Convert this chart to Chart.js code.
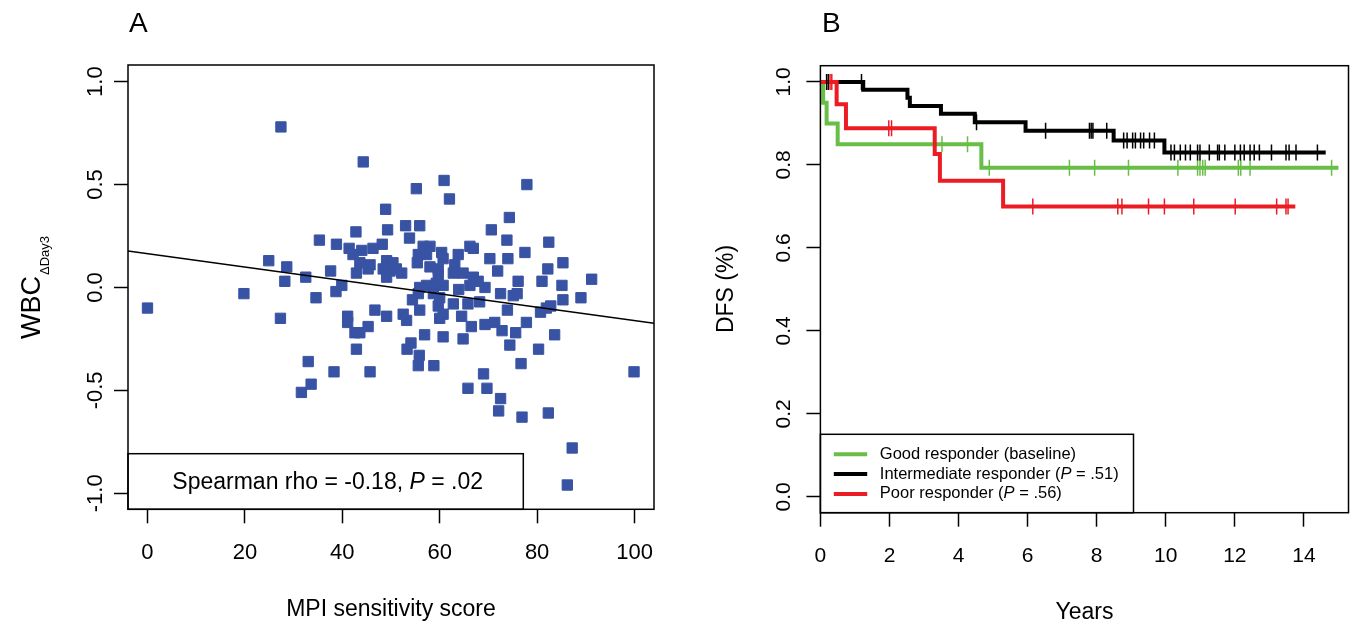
<!DOCTYPE html>
<html>
<head>
<meta charset="utf-8">
<script src="https://cdn.jsdelivr.net/npm/chart.js@4.4.1/dist/chart.umd.min.js"></script>
<style>
  html, body { margin: 0; padding: 0; background: #fff; }
  #wrap { position: relative; width: 1358px; height: 625px; }
  #chartA { position: absolute; left: 0; top: 0; }
  #chartB { position: absolute; left: 680px; top: 0; }
</style>
</head>
<body>
<div id="wrap">
  <canvas id="chartA" width="680" height="625"></canvas>
  <canvas id="chartB" width="678" height="625"></canvas>
</div>
<script>
// ---------- panel A : MPI score vs WBC change ----------
var mpiScore = [0.0, 19.8, 27.4, 99.9, 44.3, 55.2, 48.9, 53.0, 55.9, 42.8, 49.3, 53.8, 35.3, 38.8, 48.2, 46.3,
  41.4, 44.0, 42.2, 56.6, 55.6, 43.6, 45.7, 45.3, 49.1, 50.4, 48.4, 49.8, 51.1, 52.2, 49.1, 55.4, 24.9, 28.6,
  37.6, 42.9, 32.5, 28.2, 39.9, 38.7, 34.6, 55.9, 57.3, 55.6, 54.4, 55.9, 46.7, 52.5, 49.1, 41.1, 27.3, 60.9,
  77.9, 62.0, 74.3, 70.6, 73.8, 82.4, 77.5, 66.2, 66.9, 60.4, 63.8, 58.0, 70.3, 74.0, 85.3, 57.3, 60.7, 58.0,
  59.7, 63.1, 71.9, 82.2, 62.8, 64.8, 66.9, 67.9, 66.2, 69.3, 59.7, 59.3, 60.7, 76.1, 81.0, 85.1, 91.2, 63.9,
  72.5, 75.1, 75.9, 85.3, 89.0, 58.7, 60.0, 59.7, 62.8, 65.8, 68.2, 82.8, 81.9, 80.7, 73.9, 60.7, 64.5, 71.3,
  77.8, 41.1, 53.2, 45.3, 43.6, 42.6, 56.9, 54.1, 53.3, 42.9, 55.8, 55.6, 33.0, 38.3, 45.7, 33.6, 31.6, 60.0,
  66.5, 69.3, 72.8, 75.6, 60.7, 64.8, 74.4, 83.6, 80.3, 58.8, 76.7, 69.0, 65.8, 69.7, 72.5, 72.1, 76.9, 82.3,
  87.2, 86.2];
var wbcDelta = [-0.10, -0.03, 0.78, -0.41, 0.61, 0.48, 0.38, 0.30, 0.30, 0.27, 0.28, 0.24, 0.23, 0.21, 0.21, 0.19,
  0.19, 0.18, 0.16, 0.20, 0.16, 0.12, 0.11, 0.09, 0.13, 0.12, 0.09, 0.08, 0.09, 0.07, 0.05, 0.12, 0.13, 0.10,
  0.08, 0.07, 0.05, 0.03, 0.01, -0.02, -0.05, 0.00, 0.01, -0.03, -0.06, -0.11, -0.11, -0.13, -0.14, -0.14, -0.15, 0.52,
  0.50, 0.43, 0.34, 0.28, 0.23, 0.22, 0.17, 0.20, 0.19, 0.17, 0.16, 0.20, 0.14, 0.14, 0.12, 0.16, 0.14, 0.10,
  0.09, 0.11, 0.08, 0.09, 0.07, 0.07, 0.05, 0.03, 0.01, 0.00, 0.06, 0.02, 0.01, 0.03, 0.03, 0.01, 0.04, -0.01,
  -0.03, -0.04, -0.03, -0.06, -0.05, -0.03, -0.05, -0.09, -0.08, -0.08, -0.07, -0.09, -0.10, -0.12, -0.11, -0.13, -0.14, -0.17,
  -0.17, -0.17, -0.16, -0.19, -0.22, -0.22, -0.23, -0.27, -0.30, -0.30, -0.33, -0.38, -0.36, -0.41, -0.41, -0.47, -0.51, -0.15,
  -0.19, -0.18, -0.21, -0.22, -0.24, -0.25, -0.28, -0.23, -0.30, -0.38, -0.37, -0.42, -0.49, -0.49, -0.54, -0.60, -0.63, -0.61,
  -0.78, -0.96];
var fitX = [-4, 104];
var fitY = [0.177, -0.174];
var xTicksA = [0, 20, 40, 60, 80, 100];
var yTicksA = [-1, -0.5, 0, 0.5, 1];
var yTickLabelsA = ['-1.0', '-0.5', '0.0', '0.5', '1.0'];

// ---------- panel B : Kaplan-Meier DFS ----------
var goodTime = [0, 0.08, 0.18, 0.50, 4.66, 15.0];
var goodSurv = [1, 0.95, 0.90, 0.85, 0.793, 0.793];
var goodCens = [3.52, 4.26, 4.89, 7.21, 7.94, 8.92, 10.35, 10.92, 10.99, 11.07, 11.14, 12.10, 12.17, 12.44, 14.80];
var interTime = [0, 1.24, 2.52, 2.59, 3.49, 4.47, 5.94, 8.49, 9.96, 14.63];
var interSurv = [1, 0.981, 0.962, 0.942, 0.923, 0.903, 0.882, 0.859, 0.830, 0.830];
var interCens = [0.18, 0.23, 1.19, 4.52, 6.52, 7.79, 7.84, 7.89, 8.29, 8.78, 8.88, 9.04, 9.12, 9.27, 9.36, 9.53,
  9.67, 10.15, 10.25, 10.42, 10.57, 10.71, 10.92, 10.99, 11.26, 11.50, 11.55, 11.71, 12.00, 12.16, 12.27, 12.44,
  12.56, 12.71, 13.06, 13.48, 13.57, 13.77, 14.39];
var poorTime = [0, 0.47, 0.74, 3.31, 3.46, 5.29, 13.75];
var poorSurv = [1, 0.946, 0.888, 0.826, 0.762, 0.700, 0.700];
var poorCens = [0.28, 0.33, 1.98, 2.06, 6.15, 8.61, 8.73, 9.50, 9.96, 10.81, 12.01, 13.21, 13.48, 13.54];
var xTicksB = [0, 2, 4, 6, 8, 10, 12, 14];
var yTicksB = [0, 0.2, 0.4, 0.6, 0.8, 1.0];
var yTickLabelsB = ['0.0', '0.2', '0.4', '0.6', '0.8', '1.0'];

var FONT = '"Liberation Sans", Arial, Helvetica, sans-serif';
var BLUE = 'rgb(57, 83, 164)';
var GREEN = 'rgb(104, 190, 70)';
var RED = 'rgb(236, 28, 36)';

function xy(xs, ys) {
  return xs.map(function (x, i) { return { x: x, y: ys[i] }; });
}

// survival level of a curve at time t (for placing censor marks)
function survAt(times, surv, t) {
  var s = surv[0];
  for (var i = 0; i < times.length; i++) if (times[i] <= t) s = surv[i];
  return s;
}
function censPoints(times, surv, cens) {
  return cens.map(function (t) { return { x: t, y: survAt(times, surv, t) }; });
}

// text made of plain / italic pieces
function drawRich(ctx, parts, x, y, size, align) {
  var w = 0;
  parts.forEach(function (p) {
    ctx.font = (p[1] ? 'italic ' : '') + size + 'px ' + FONT;
    w += ctx.measureText(p[0]).width;
  });
  var cx = align === 'center' ? x - w / 2 : x;
  ctx.textAlign = 'left';
  parts.forEach(function (p) {
    ctx.font = (p[1] ? 'italic ' : '') + size + 'px ' + FONT;
    ctx.fillText(p[0], cx, y);
    cx += ctx.measureText(p[0]).width;
  });
}

function drawTickLabels(chart, xLabels, yLabels, size, xOff, yOff) {
  var ctx = chart.ctx, xs = chart.scales.x, ys = chart.scales.y;
  ctx.save();
  ctx.fillStyle = '#000';
  ctx.font = size + 'px ' + FONT;
  ctx.textAlign = 'center';
  ctx.textBaseline = 'middle';
  xs.ticks.forEach(function (t, i) {
    ctx.fillText(xLabels[i], xs.getPixelForValue(t.value), xs.top + xOff);
  });
  ctx.textBaseline = 'alphabetic';
  ys.ticks.forEach(function (t, i) {
    ctx.save();
    ctx.translate(ys.right - yOff, ys.getPixelForValue(t.value));
    ctx.rotate(-Math.PI / 2);
    ctx.fillText(yLabels[i], 0, 0);
    ctx.restore();
  });
  ctx.restore();
}

function axisOpts(min, max, tickVals, fit) {
  return {
    type: 'linear', min: min, max: max,
    afterBuildTicks: function (s) { s.ticks = tickVals.map(function (v) { return { value: v }; }); },
    afterFit: fit,
    ticks: { display: false },
    grid: { drawOnChartArea: false, drawTicks: true, tickLength: 14, tickColor: '#000', tickWidth: 1.5 },
    border: { display: false }
  };
}

var panelA = {
  id: 'panelA',
  afterDraw: function (chart) {
    var ctx = chart.ctx, ca = chart.chartArea;
    ctx.save();
    // legend box
    ctx.fillStyle = '#fff';
    ctx.fillRect(ca.left, 453.7, 523.3 - ca.left, ca.bottom - 453.7);
    ctx.strokeStyle = '#000';
    ctx.lineWidth = 1.5;
    ctx.strokeRect(ca.left, 453.7, 523.3 - ca.left, ca.bottom - 453.7);
    ctx.fillStyle = '#000';
    ctx.textBaseline = 'middle';
    drawRich(ctx, [['Spearman rho = -0.18, ', false], ['P', true], [' = .02', false]],
      (ca.left + 523.3) / 2 + 2, 483, 23, 'center');
    // frame
    ctx.strokeRect(ca.left, ca.top, ca.right - ca.left, ca.bottom - ca.top);
    // panel letter
    ctx.textBaseline = 'alphabetic';
    ctx.textAlign = 'left';
    ctx.font = '28px ' + FONT;
    ctx.fillText('A', 129, 32);
    // x title
    ctx.textAlign = 'center';
    ctx.textBaseline = 'middle';
    ctx.font = '23px ' + FONT;
    ctx.fillText('MPI sensitivity score', (ca.left + ca.right) / 2, 610);
    // y title with subscript
    ctx.save();
    ctx.translate(40, 288);
    ctx.rotate(-Math.PI / 2);
    ctx.textBaseline = 'alphabetic';
    ctx.textAlign = 'left';
    ctx.font = '27px ' + FONT;
    var w1 = ctx.measureText('WBC').width;
    ctx.font = '13px ' + FONT;
    var w2 = ctx.measureText('\u0394Day3').width;
    var x0 = -(w1 + w2) / 2;
    ctx.font = '27px ' + FONT;
    ctx.fillText('WBC', x0, 0);
    ctx.font = '13px ' + FONT;
    ctx.fillText('\u0394Day3', x0 + w1 + 1, 9);
    ctx.restore();
    ctx.restore();
    drawTickLabels(chart, xTicksA.map(String), yTickLabelsA, 22, 44, 26);
  }
};

new Chart(document.getElementById('chartA'), {
  type: 'scatter',
  data: {
    datasets: [
      { type: 'line', data: xy(fitX, fitY), borderColor: '#000', borderWidth: 1.4, pointRadius: 0, order: 0 },
      { data: xy(mpiScore, wbcDelta), pointStyle: 'rect', pointRadius: 7.3,
        pointBackgroundColor: BLUE, pointBorderColor: BLUE, pointBorderWidth: 1, order: 1 }
    ]
  },
  options: {
    responsive: false,
    animation: false,
    layout: { padding: { top: 65, right: 26, left: 0, bottom: 0 } },
    plugins: { legend: { display: false }, tooltip: { enabled: false } },
    scales: {
      x: axisOpts(-4, 104, xTicksA, function (s) { s.height = 115.7; }),
      y: axisOpts(-1.078, 1.081, yTicksA, function (s) { s.width = 128; })
    }
  },
  plugins: [panelA]
});

var panelB = {
  id: 'panelB',
  afterDraw: function (chart) {
    var ctx = chart.ctx, ca = chart.chartArea;
    var lx = ca.left, ly = 434.3, lr = 1133.5 - 680;
    ctx.save();
    ctx.fillStyle = '#fff';
    ctx.fillRect(lx, ly, lr - lx, ca.bottom - ly);
    ctx.strokeStyle = '#000';
    ctx.lineWidth = 1.5;
    ctx.strokeRect(lx, ly, lr - lx, ca.bottom - ly);
    var rows = [
      [GREEN, [['Good responder (baseline)', false]]],
      ['#000', [['Intermediate responder (', false], ['P', true], [' = .51)', false]]],
      [RED, [['Poor responder (', false], ['P', true], [' = .56)', false]]]
    ];
    ctx.textBaseline = 'middle';
    rows.forEach(function (r, i) {
      var y = 454.3 + i * 19.8;
      ctx.strokeStyle = r[0];
      ctx.lineWidth = 4;
      ctx.beginPath();
      ctx.moveTo(153.8, y);
      ctx.lineTo(187.2, y);
      ctx.stroke();
      ctx.fillStyle = '#000';
      drawRich(ctx, r[1], 199.8, y, 16.5, 'left');
    });
    // frame
    ctx.strokeStyle = '#000';
    ctx.lineWidth = 1.5;
    ctx.strokeRect(ca.left, ca.top, ca.right - ca.left, ca.bottom - ca.top);
    ctx.fillStyle = '#000';
    ctx.textBaseline = 'alphabetic';
    ctx.textAlign = 'left';
    ctx.font = '28px ' + FONT;
    ctx.fillText('B', 142, 32);
    ctx.textAlign = 'center';
    ctx.textBaseline = 'middle';
    ctx.font = '23px ' + FONT;
    ctx.fillText('Years', (ca.left + ca.right) / 2, 613);
    ctx.save();
    ctx.translate(53, 289);
    ctx.rotate(-Math.PI / 2);
    ctx.textBaseline = 'alphabetic';
    ctx.fillText('DFS (%)', 0, 0);
    ctx.restore();
    ctx.restore();
    drawTickLabels(chart, xTicksB.map(String), yTickLabelsB, 21, 44, 30);
  }
};

function kmLine(times, surv, color, order) {
  return { type: 'line', data: xy(times, surv), stepped: true, borderColor: color, borderWidth: 4,
    pointRadius: 0, fill: false, borderJoinStyle: 'miter', order: order };
}
function censSet(times, surv, cens, color, order) {
  return { data: censPoints(times, surv, cens), pointStyle: 'line', pointRotation: 90, pointRadius: 8,
    pointBorderColor: color, pointBorderWidth: 1.5, order: order };
}

new Chart(document.getElementById('chartB'), {
  type: 'scatter',
  data: {
    datasets: [
      censSet(poorTime, poorSurv, poorCens, RED, 0),
      censSet(interTime, interSurv, interCens, '#000', 1),
      censSet(goodTime, goodSurv, goodCens, GREEN, 2),
      kmLine(poorTime, poorSurv, RED, 3),
      kmLine(interTime, interSurv, '#000', 4),
      kmLine(goodTime, goodSurv, GREEN, 5)
    ]
  },
  options: {
    responsive: false,
    animation: false,
    layout: { padding: { top: 65.7, right: 8.7, left: 0, bottom: 0 } },
    plugins: { legend: { display: false }, tooltip: { enabled: false } },
    scales: {
      x: axisOpts(0, 15.29, xTicksB, function (s) { s.height = 112.3; }),
      y: axisOpts(-0.038, 1.039, yTicksB, function (s) { s.width = 140.4; })
    }
  },
  plugins: [panelB]
});
</script>
</body>
</html>
